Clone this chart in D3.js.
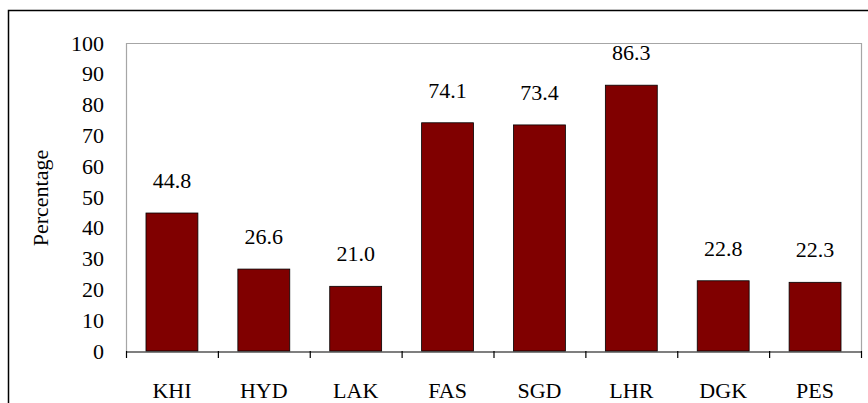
<!DOCTYPE html>
<html><head><meta charset="utf-8">
<script src="https://cdn.jsdelivr.net/npm/d3@7"></script>
<style>
html,body{margin:0;padding:0;background:#fff;}
svg{display:block;}
</style></head>
<body><svg id="c" width="868" height="403"></svg>
<script>
const categories = ["KHI","HYD","LAK","FAS","SGD","LHR","DGK","PES"];
const values = [44.8,26.6,21.0,74.1,73.4,86.3,22.8,22.3];
const yTicks = [0,10,20,30,40,50,60,70,80,90,100];
const yTitle = "Percentage";

const FONT = "'Liberation Serif', 'DejaVu Serif', serif";
const svg = d3.select("#c").style("font-family", FONT);
const L = 126, R = 861, T = 43, B = 351;

svg.append("rect").attr("x",8.5).attr("y",10.5).attr("width",1000).attr("height",1000)
  .attr("fill","none").attr("stroke","#000").attr("stroke-width",1.5);

const x = d3.scaleBand().domain(categories).range([L,R]).paddingInner(0.435).paddingOuter(0.2175);
const xc = d3.scaleBand().domain(categories).range([L,R]).padding(0);
const y = d3.scaleLinear().domain([0,100]).range([B,T]);

svg.append("path").attr("d",`M${L+0.5},${B}V${T+0.5}H${R+0.5}V${B}`)
  .attr("fill","none").attr("stroke","#a6a6a6").attr("stroke-width",1.2);

svg.selectAll("rect.bar").data(values).join("rect").attr("class","bar")
  .attr("x",(d,i)=>x(categories[i])).attr("width",x.bandwidth())
  .attr("y",d=>y(d)).attr("height",d=>B-y(d))
  .attr("fill","#800000").attr("stroke","#000").attr("stroke-width",0.8);

svg.selectAll("text.val").data(values).join("text").attr("class","val")
  .attr("x",(d,i)=>x(categories[i])+x.bandwidth()/2).attr("y",d=>y(d)-25)
  .attr("text-anchor","middle").style("font-family",FONT).style("font-size","22px").text(d=>d.toFixed(1));

const ya = svg.append("g").attr("transform",`translate(${L},0)`)
  .call(d3.axisLeft(y).tickValues(yTicks).tickSize(0).tickPadding(22));
ya.attr("font-family",null).attr("font-size",null);
ya.select(".domain").remove();
ya.selectAll("text").style("font-family",FONT).style("font-size","22px").attr("fill","#000");

const xa = svg.append("g").attr("transform",`translate(0,${B+0.5})`)
  .call(d3.axisBottom(xc).tickSize(0).tickPadding(31));
xa.attr("font-family",null).attr("font-size",null);
xa.select(".domain").attr("stroke","#000").attr("stroke-width",1.2);
xa.selectAll("text").style("font-family",FONT).style("font-size","22px").attr("fill","#000");
const bounds = categories.map(c=>xc(c)).concat([R]);
svg.append("g").selectAll("line").data(bounds).join("line")
  .attr("x1",d=>d+0.5).attr("x2",d=>d+0.5).attr("y1",B).attr("y2",B+7)
  .attr("stroke","#000").attr("stroke-width",1.2);

svg.append("text").attr("transform","translate(48,198) rotate(-90)")
  .attr("text-anchor","middle").style("font-family",FONT).style("font-size","22px").text(yTitle);
</script></body></html>
